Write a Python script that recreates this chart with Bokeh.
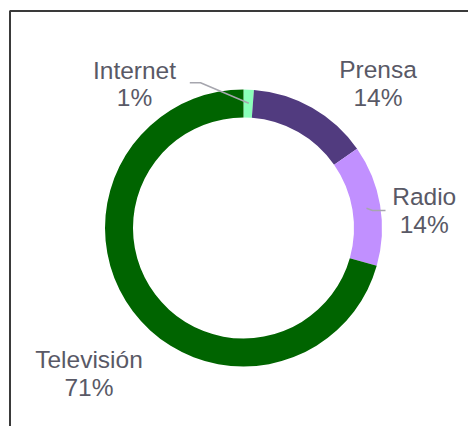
import numpy as np
from bokeh.plotting import figure
from bokeh.models import Range1d
from bokeh.core.properties import value
from bokeh.embed import file_html
from bokeh.resources import INLINE

# ---- data ----
categories = ["Internet", "Prensa", "Radio", "Televisión"]
shares = [1.2, 14.1, 14.1, 70.6]
pct_labels = ["1%", "14%", "14%", "71%"]
colors = ["#8AFFBA", "#513B7F", "#C190FF", "#006400"]

# ---- layout (pixel space of the page; y measured from bottom) ----
W, H = 468, 426
cx, cy = 243, 198.5
r_out, r_in = 138.5, 110.5
label_x = [134, 377.5, 423.7, 88.5]
name_y = [356, 357, 230, 66.7]
pct_y = [329, 329, 202.3, 39]

p = figure(width=W, height=H, output_backend="svg", toolbar_location=None,
           x_range=Range1d(0, W), y_range=Range1d(0, H), min_border=0)
p.axis.visible = False
p.grid.visible = False
p.outline_line_color = None
p.background_fill_color = "white"

# border box (only top and left visible within the window)
p.quad(left=[9.5], right=[W + 50], bottom=[-50], top=[415.5],
       fill_color=None, line_color="#3a3a3a", line_width=2)

vals = np.array(shares, dtype=float)
frac = vals / vals.sum()
cum = np.concatenate([[0.0], np.cumsum(frac)])
start = np.pi / 2 - cum[:-1] * 2 * np.pi
end = np.pi / 2 - cum[1:] * 2 * np.pi

p.annular_wedge(x=cx, y=cy, inner_radius=r_in, outer_radius=r_out,
                start_angle=list(start), end_angle=list(end), direction="clock",
                fill_color=colors, line_color=None)

# leader lines
p.line([189.3, 200, 248.3], [343.7, 343.7, 323.3], line_color="#A6A6AE", line_width=1.5)
p.line([366, 372, 385], [218.3, 216, 216], line_color="#A6A6AE", line_width=1.5)

font = value("Liberation Sans")
p.text(x=label_x, y=name_y, text=categories, text_font=font, text_font_size="24.5px",
       text_color="#595966", text_align="center", text_baseline="alphabetic")
p.text(x=label_x, y=pct_y, text=pct_labels, text_font=font, text_font_size="24.5px",
       text_color="#595966", text_align="center", text_baseline="alphabetic")

open("out.html", "w").write(file_html(p, INLINE))
